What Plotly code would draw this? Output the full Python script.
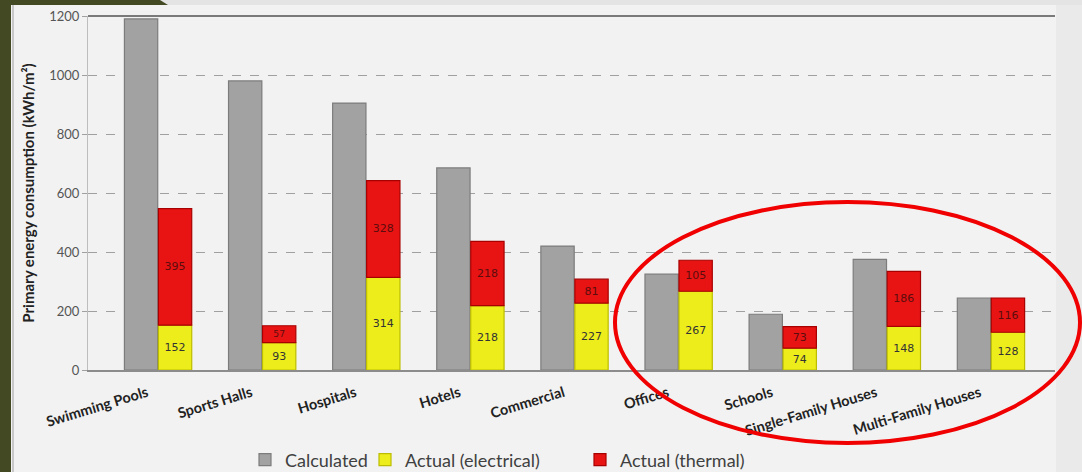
import plotly.graph_objects as go

# Building categories and primary energy consumption (kWh/m²)
categories = ["Swimming Pools", "Sports Halls", "Hospitals", "Hotels", "Commercial",
              "Offices", "Schools", "Single-Family Houses", "Multi-Family Houses"]
calculated = [1190, 980, 905, 685, 420, 325, 189, 375, 244]
actual_electrical = [152, 93, 314, 218, 227, 267, 74, 148, 128]
actual_thermal = [395, 57, 328, 218, 81, 105, 73, 186, 116]

y_ticks = [0, 200, 400, 600, 800, 1000, 1200]

W, H = 1082, 472
L, R, T, B = 88, 27, 16, 102
PW, PH = W - L - R, H - T - B


def px(x):
    return (x - L) / PW


def py(y):
    return (H - B - y) / PH


fig = go.Figure()

fig.add_trace(go.Bar(
    name="Calculated", x=categories, y=calculated, offsetgroup="calc",
    marker=dict(color="#a2a2a2", line=dict(color="#7c7c7c", width=1.2)),
    legend="legend", showlegend=True,
))
fig.add_trace(go.Bar(
    name="Actual (electrical)", x=categories, y=actual_electrical, offsetgroup="act",
    marker=dict(color="#eded1c", line=dict(color="#bdbd00", width=1.2)),
    text=actual_electrical, textposition="inside", insidetextanchor="middle",
    textangle=0, textfont=dict(family="DejaVu Sans", size=11, color="#333333"),
    legend="legend2", showlegend=True,
))
fig.add_trace(go.Bar(
    name="Actual (thermal)", x=categories, y=actual_thermal, base=actual_electrical,
    offsetgroup="act",
    marker=dict(color="#e81414", line=dict(color="#a80000", width=1.2)),
    text=actual_thermal, textposition="inside", insidetextanchor="middle",
    textangle=0, textfont=dict(family="DejaVu Sans", size=11, color="#5c0c0c"),
    legend="legend3", showlegend=True,
))

# Frame decorations around the chart panel
shapes = [
    # olive left strip
    dict(type="rect", xref="paper", yref="paper", x0=px(0), x1=px(11), y0=py(H), y1=py(0),
         fillcolor="#434a23", line=dict(width=0), layer="below"),
    # light top band
    dict(type="rect", xref="paper", yref="paper", x0=px(0), x1=px(W), y0=py(5), y1=py(0),
         fillcolor="#e4e4e4", line=dict(width=0), layer="below"),
    # olive tab at the top left
    dict(type="path", xref="paper", yref="paper",
         path=f"M {px(0)},{py(0)} L {px(160)},{py(0)} L {px(168)},{py(5)} L {px(0)},{py(5)} Z",
         fillcolor="#434a23", line=dict(width=0), layer="below"),
    # panel left border
    dict(type="line", xref="paper", yref="paper", x0=px(13), x1=px(13), y0=py(H), y1=py(5),
         line=dict(color="#c8c8c8", width=2), layer="below"),
    # right margin beyond the panel
    dict(type="rect", xref="paper", yref="paper", x0=px(1056), x1=px(W), y0=py(H), y1=py(5),
         fillcolor="#eaeaea", line=dict(width=0), layer="below"),
    # top border of the plot
    dict(type="line", xref="paper", yref="paper", x0=0, x1=1, y0=1, y1=1,
         line=dict(color="#7a7a7a", width=2)),
    # highlight ellipse
    dict(type="circle", xref="paper", yref="paper", x0=px(615), x1=px(1080),
         y0=py(443), y1=py(202), line=dict(color="#f00000", width=4)),
]

legend_style = dict(orientation="h", yanchor="middle", y=py(460), xanchor="left",
                    bgcolor="rgba(0,0,0,0)", font=dict(family="Lato", size=18, color="#404040"),
                    itemwidth=30, tracegroupgap=0, visible=True)

fig.update_layout(
    width=W, height=H,
    margin=dict(l=L, r=R, t=T, b=B, autoexpand=False),
    showlegend=True,
    paper_bgcolor="#f2f2f2", plot_bgcolor="#f2f2f2",
    barmode="group", bargap=0.347, bargroupgap=0.02,
    font=dict(family="Lato", color="#333333"),
    shapes=shapes,
    legend=dict(**legend_style, x=px(245)),
    legend2=dict(**legend_style, x=px(365)),
    legend3=dict(**legend_style, x=px(580)),
    xaxis=dict(
        range=[-0.673, 8.615], tickangle=-17, showgrid=False, automargin=False,
        showline=True, linecolor="#8c8c8c", linewidth=2, ticks="",
        ticklabelshift=-11, ticklabelstandoff=7,
        tickfont=dict(family="Lato", size=14.5, color="#222222", weight="bold"),
    ),
    yaxis=dict(
        range=[0, 1200], tickvals=y_ticks, showgrid=True, gridcolor="#a0a0a0",
        griddash="dash", gridwidth=1, zeroline=False, automargin=False,
        showline=True, linecolor="#bdbdbd", linewidth=1,
        ticks="outside", ticklen=5, tickcolor="#a0a0a0",
        tickfont=dict(family="Lato", size=13, color="#555555"),
        title=dict(text="Primary energy consumption (kWh/m²)", standoff=10,
                   font=dict(family="Lato", size=15, color="#222222", weight="bold")),
    ),
)

fig.write_html("out.html")
